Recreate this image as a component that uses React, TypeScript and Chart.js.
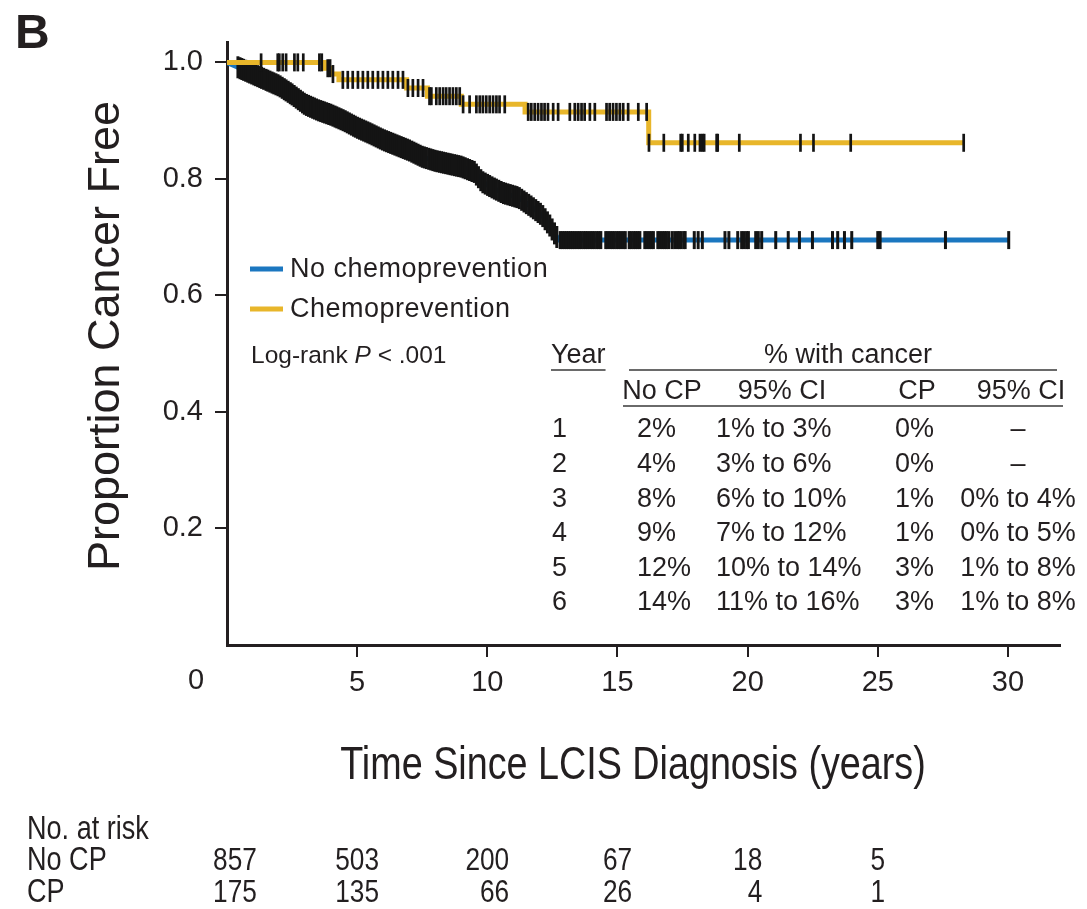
import React, { useEffect, useRef } from "react";
import { Chart, registerables } from "chart.js";

Chart.register(...registerables);

// No chemoprevention: many small events, so the estimate is traced as a continuous decline
const timesNoCP = [0, 0.4, 1.0, 1.5, 2.0, 2.5, 3.0, 3.5, 4.0, 4.5, 5.0, 5.5, 6.0, 6.5, 7.0, 7.5, 8.0, 8.5, 9.0, 9.5, 9.8, 10.2, 10.6, 11.2, 11.7, 12.1, 12.4, 12.6, 12.75];
const survNoCP = [1.0, 0.992, 0.98, 0.97, 0.96, 0.945, 0.928, 0.918, 0.91, 0.9, 0.888, 0.878, 0.867, 0.858, 0.849, 0.838, 0.831, 0.826, 0.821, 0.812, 0.795, 0.785, 0.776, 0.768, 0.752, 0.738, 0.72, 0.705, 0.695];
const lastNoCP = 30.03;

// Chemoprevention: few events, drawn as a step function (level from each time onward)
const timesCP = [0, 3.75, 4.0, 4.3, 6.9, 7.7, 9.0, 11.45, 16.2];
const survCP = [1.0, 0.99, 0.98, 0.97, 0.956, 0.942, 0.928, 0.915, 0.862];
const lastCP = 28.3;

// Censored observations (years)
const censorNoCP = [
  0.42, 0.5, 0.57, 0.64, 0.72, 0.8, 0.87, 0.95, 1.03, 1.1, 1.18, 1.26, 1.33, 1.41, 1.5, 1.57, 1.65, 1.73, 1.8, 1.88,
  1.96, 2.04, 2.12, 2.2, 2.27, 2.35, 2.43, 2.5, 2.58, 2.66, 2.74, 2.82, 2.9, 2.97, 3.05, 3.13, 3.21, 3.29, 3.36, 3.44,
  3.52, 3.6, 3.68, 3.75, 3.83, 3.91, 3.99, 4.07, 4.15, 4.22, 4.3, 4.38, 4.46, 4.54, 4.62, 4.7, 4.78, 4.86, 4.93, 5.01,
  5.09, 5.17, 5.25, 5.33, 5.41, 5.49, 5.57, 5.65, 5.73, 5.81, 5.89, 5.97, 6.05, 6.13, 6.21, 6.29, 6.37, 6.45, 6.53, 6.61,
  6.69, 6.77, 6.85, 6.93, 7.01, 7.1, 7.18, 7.26, 7.34, 7.42, 7.5, 7.58, 7.66, 7.75, 7.83, 7.91, 7.99, 8.07, 8.16, 8.24,
  8.32, 8.4, 8.49, 8.57, 8.65, 8.74, 8.82, 8.9, 8.99, 9.07, 9.15, 9.24, 9.32, 9.41, 9.5, 9.58, 9.66, 9.75, 9.83, 9.92,
  10.01, 10.09, 10.18, 10.27, 10.35, 10.44, 10.53, 10.62, 10.7, 10.79, 10.88, 10.97, 11.06, 11.14, 11.23, 11.32, 11.41,
  11.5, 11.59, 11.68, 11.77, 11.86, 11.95, 12.04, 12.13, 12.22, 12.31, 12.4, 12.49, 12.58, 12.67,
  12.8, 12.88, 12.96, 13.04, 13.12, 13.2, 13.28, 13.36, 13.45, 13.53, 13.61, 13.7, 13.78, 13.86, 13.95, 14.03, 14.11,
  14.2, 14.28, 14.36, 14.55, 14.63, 14.72, 14.8, 14.88, 14.97, 15.05, 15.13, 15.22, 15.3, 15.45, 15.53, 15.62, 15.7,
  15.78, 15.86, 16.05, 16.13, 16.22, 16.3, 16.38, 16.55, 16.63, 16.72, 16.8, 16.88, 16.97, 17.1, 17.2, 17.3, 17.37,
  17.45, 17.55, 17.6, 17.95, 18.1, 18.26, 19.13, 19.28, 19.62, 19.77, 19.86, 19.96, 20.03, 20.31, 20.41, 20.54, 21.08,
  21.56, 21.99, 22.49, 23.26, 23.46, 23.72, 24.0, 25.0, 25.09, 27.6, 30.03,
];
const censorCP = [
  1.31, 1.95, 2.01, 2.14, 2.27, 2.59, 2.72, 2.93, 3.55, 3.64, 3.87, 3.96, 4.07, 4.45, 4.64, 4.83, 5.03, 5.22, 5.41, 5.6,
  5.8, 5.99, 6.18, 6.37, 6.57, 6.76, 6.95, 7.14, 7.34, 7.53, 7.78, 7.85, 8.04, 8.17, 8.3, 8.42, 8.55, 8.68, 8.81, 8.94,
  9.07, 9.32, 9.58, 9.71, 9.83, 9.96, 10.09, 10.22, 10.35, 10.47, 10.67, 11.57, 11.69, 11.82, 11.95, 12.08, 12.2, 12.33,
  12.53, 12.72, 13.17, 13.36, 13.49, 13.62, 13.74, 13.94, 14.13, 14.58, 14.7, 14.83, 14.96, 15.09, 15.22, 15.41, 15.8,
  16.12, 16.21, 16.78, 17.43, 17.49, 17.72, 17.97, 18.17, 18.26, 18.33, 18.81, 18.85, 19.68, 22.03, 22.53, 23.96, 28.3,
];

// Axis ticks
const xTicks = [5, 10, 15, 20, 25, 30];
const yTicks = [0.2, 0.4, 0.6, 0.8, 1.0];

// Numbers at risk
const riskTimes = [0, 5, 10, 15, 20, 25];
const riskNoCP = [857, 503, 200, 67, 18, 5];
const riskCP = [175, 135, 66, 26, 4, 1];

// Inset table: cumulative % with cancer
const tableYears = ["1", "2", "3", "4", "5", "6"];
const tableNoCP = ["2%", "4%", "8%", "9%", "12%", "14%"];
const tableNoCPCI = ["1% to 3%", "3% to 6%", "6% to 10%", "7% to 12%", "10% to 14%", "11% to 16%"];
const tableCP = ["0%", "0%", "1%", "1%", "3%", "3%"];
const tableCPCI = ["\u2013", "\u2013", "0% to 4%", "0% to 5%", "1% to 8%", "1% to 8%"];

const BLUE = "#1b77c0";
const GOLD = "#e8b62a";
const INK = "#231f20";
const SANS = '"Liberation Sans", Arial, Helvetica, sans-serif';
const CONDENSE = 0.82; // horizontal squeeze for the condensed lettering

// value of a step curve at time t
function stepAt(times: number[], surv: number[], t: number): number {
  let v = surv[0];
  for (let i = 0; i < times.length; i++) {
    if (times[i] <= t) v = surv[i];
    else break;
  }
  return v;
}

// value of a traced (straight-segment) curve at time t
function traceAt(times: number[], surv: number[], t: number): number {
  if (t >= times[times.length - 1]) return surv[surv.length - 1];
  for (let i = 1; i < times.length; i++) {
    if (t <= times[i]) {
      const f = (t - times[i - 1]) / (times[i] - times[i - 1]);
      return surv[i - 1] + f * (surv[i] - surv[i - 1]);
    }
  }
  return surv[surv.length - 1];
}

function curvePoints(times: number[], surv: number[], last: number) {
  const pts = times.map((t, i) => ({ x: t, y: surv[i] }));
  pts.push({ x: last, y: surv[surv.length - 1] });
  return pts;
}

// condensed text: draws with a horizontal squeeze around the anchor point
function fillCondensed(ctx: CanvasRenderingContext2D, text: string, x: number, y: number, align: CanvasTextAlign) {
  ctx.save();
  ctx.translate(x, y);
  ctx.scale(CONDENSE, 1);
  ctx.textAlign = align;
  ctx.fillText(text, 0, 0);
  ctx.restore();
}

const annotate = {
  id: "annotate",
  afterDraw(chart: any) {
    const { ctx, chartArea, scales } = chart;
    const xs = scales.x;
    ctx.save();
    ctx.fillStyle = INK;
    ctx.strokeStyle = INK;

    // panel letter
    ctx.font = `bold 48px ${SANS}`;
    ctx.textAlign = "left";
    ctx.textBaseline = "alphabetic";
    ctx.fillText("B", 15, 48);

    // origin label on the time axis
    ctx.font = `29px ${SANS}`;
    ctx.textAlign = "center";
    ctx.textBaseline = "top";
    ctx.fillText("0", xs.getPixelForValue(0) - 31, chartArea.bottom + 21);

    // axis titles
    ctx.save();
    ctx.translate(119, 336);
    ctx.rotate(-Math.PI / 2);
    ctx.font = `45px ${SANS}`;
    ctx.textAlign = "center";
    ctx.textBaseline = "alphabetic";
    ctx.fillText("Proportion Cancer Free", 0, 0);
    ctx.restore();

    ctx.font = `46px ${SANS}`;
    ctx.textBaseline = "alphabetic";
    fillCondensed(ctx, "Time Since LCIS Diagnosis (years)", 633, 779, "center");

    // legend
    ctx.lineWidth = 5;
    ctx.strokeStyle = BLUE;
    ctx.beginPath();
    ctx.moveTo(250, 269);
    ctx.lineTo(283, 269);
    ctx.stroke();
    ctx.strokeStyle = GOLD;
    ctx.beginPath();
    ctx.moveTo(250, 309);
    ctx.lineTo(283, 309);
    ctx.stroke();
    ctx.font = `27px ${SANS}`;
    ctx.textAlign = "left";
    ctx.textBaseline = "middle";
    (ctx as any).letterSpacing = "0.5px";
    ctx.fillText("No chemoprevention", 290, 270);
    ctx.fillText("Chemoprevention", 290, 310);
    (ctx as any).letterSpacing = "0px";

    // log-rank test
    ctx.font = `24.5px ${SANS}`;
    let lx = 251;
    const ly = 356;
    ctx.fillText("Log-rank ", lx, ly);
    lx += ctx.measureText("Log-rank ").width;
    ctx.font = `italic 24.5px ${SANS}`;
    ctx.fillText("P", lx, ly);
    lx += ctx.measureText("P").width;
    ctx.font = `24.5px ${SANS}`;
    ctx.fillText(" < .001", lx, ly);

    // inset table
    ctx.font = `27px ${SANS}`;
    ctx.lineWidth = 1.6;
    ctx.strokeStyle = "#3a3a3a";
    ctx.textAlign = "left";
    ctx.fillText("Year", 551, 356);
    const yw = ctx.measureText("Year").width;
    ctx.beginPath();
    ctx.moveTo(551, 370);
    ctx.lineTo(551 + yw, 370);
    ctx.moveTo(629, 370);
    ctx.lineTo(1057, 370);
    ctx.moveTo(623, 406);
    ctx.lineTo(1063, 406);
    ctx.stroke();
    ctx.textAlign = "center";
    ctx.fillText("% with cancer", 848, 356);
    ctx.fillText("No CP", 662, 392);
    ctx.fillText("95% CI", 782, 392);
    ctx.fillText("CP", 917, 392);
    ctx.fillText("95% CI", 1021, 392);
    const rowY = (i: number) => 430 + 34.6 * i;
    tableYears.forEach((yr, i) => {
      const y = rowY(i);
      ctx.textAlign = "left";
      ctx.fillText(yr, 552, y);
      ctx.fillText(tableNoCP[i], 637, y);
      ctx.fillText(tableNoCPCI[i], 716, y);
      ctx.textAlign = "right";
      ctx.fillText(tableCP[i], 934, y);
      ctx.textAlign = "center";
      ctx.fillText(tableCPCI[i], 1018, y);
    });

    // numbers at risk
    ctx.font = `33px ${SANS}`;
    fillCondensed(ctx, "No. at risk", 27, 830, "left");
    fillCondensed(ctx, "No CP", 27, 861, "left");
    fillCondensed(ctx, "CP", 27, 893, "left");
    ctx.font = `32px ${SANS}`;
    riskTimes.forEach((t, i) => {
      const a = String(riskNoCP[i]);
      const b = String(riskCP[i]);
      const half = (Math.max(ctx.measureText(a).width, ctx.measureText(b).width) * CONDENSE) / 2;
      const rx = xs.getPixelForValue(t) + half + (i === 0 ? 8 : 0);
      fillCondensed(ctx, a, rx, 861, "right");
      fillCondensed(ctx, b, rx, 893, "right");
    });

    ctx.restore();
  },
};

export default function App() {
  const canvasRef = useRef<HTMLCanvasElement | null>(null);

  useEffect(() => {
    const canvas = canvasRef.current;
    if (!canvas) return;

    const markStyle = (w: number, r: any) => ({
      showLine: false,
      pointStyle: "line",
      pointRotation: 90,
      pointRadius: r,
      pointHoverRadius: r,
      pointBorderWidth: w,
      pointBorderColor: "#141414",
      pointBackgroundColor: "#141414",
      clip: false as any,
    });

    const marksCP = censorCP.map((t) => ({ x: t, y: stepAt(timesCP, survCP, t) }));
    const marksNoCP = censorNoCP.map((t) => ({ x: t, y: traceAt(timesNoCP, survNoCP, t) }));
    // where the estimate is still declining, the tightly packed ticks overlap into a taller band
    const plateauStart = timesNoCP[timesNoCP.length - 1];
    const noCPRadius = (c: any) => (c.raw && c.raw.x < plateauStart ? 11 : 9);

    const chart = new Chart(canvas, {
      type: "line",
      data: {
        datasets: [
          { label: "CP censored", data: marksCP, ...markStyle(2.7, 9) },
          {
            label: "Chemoprevention",
            data: curvePoints(timesCP, survCP, lastCP),
            borderColor: GOLD,
            borderWidth: 5,
            stepped: "before",
            pointRadius: 0,
            fill: false,
            borderCapStyle: "butt",
          },
          { label: "No CP censored", data: marksNoCP, ...markStyle(3, noCPRadius) },
          {
            label: "No chemoprevention",
            data: curvePoints(timesNoCP, survNoCP, lastNoCP),
            borderColor: BLUE,
            borderWidth: 5,
            stepped: false,
            tension: 0,
            pointRadius: 0,
            fill: false,
            borderCapStyle: "butt",
          },
        ] as any,
      },
      options: {
        animation: false,
        responsive: false,
        devicePixelRatio: 1,
        events: [],
        layout: { padding: { top: 42, right: 27, left: 0, bottom: 0 } },
        plugins: { legend: { display: false }, tooltip: { enabled: false } },
        scales: {
          x: {
            type: "linear",
            min: 0,
            max: 32,
            afterBuildTicks: (s: any) => {
              s.ticks = xTicks.map((v) => ({ value: v }));
            },
            afterFit: (s: any) => {
              s.height = 264;
            },
            grid: { drawOnChartArea: false, drawTicks: true, tickLength: 12, color: INK, lineWidth: 2 },
            border: { display: true, color: INK, width: 3 },
            ticks: {
              autoSkip: false,
              maxRotation: 0,
              padding: 9,
              color: INK,
              font: { family: SANS, size: 29 },
              callback: (v: any) => String(v),
            },
          },
          y: {
            type: "linear",
            min: 0,
            max: 1.035,
            afterBuildTicks: (s: any) => {
              s.ticks = yTicks.map((v) => ({ value: v }));
            },
            afterFit: (s: any) => {
              s.width = 227;
            },
            grid: { drawOnChartArea: false, drawTicks: true, tickLength: 12, color: INK, lineWidth: 2 },
            border: { display: true, color: INK, width: 3 },
            ticks: {
              padding: 12,
              color: INK,
              font: { family: SANS, size: 29 },
              callback: (v: any) => Number(v).toFixed(1),
            },
          },
        },
      } as any,
      plugins: [annotate],
    });

    return () => chart.destroy();
  }, []);

  return (
    <div style={{ position: "fixed", left: 0, top: 0, width: 1087, height: 909, background: "#fff" }}>
      <canvas ref={canvasRef} width={1087} height={909} style={{ width: 1087, height: 909, display: "block" }} />
    </div>
  );
}
